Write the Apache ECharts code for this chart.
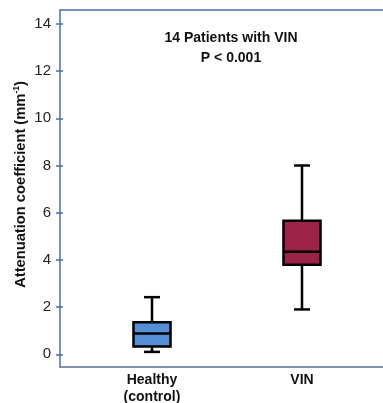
<!DOCTYPE html>
<html>
<head>
<meta charset="utf-8">
<script src="https://cdn.jsdelivr.net/npm/echarts@6/dist/echarts.min.js"></script>
<style>html,body{margin:0;padding:0;background:#fff}#c{width:383px;height:403px}</style>
</head>
<body>
<div id="c"></div>
<script>
const categories = ['Healthy\n(control)', 'VIN'];
const lowWhisker = [0.1, 1.9];
const q1 = [0.33, 3.79];
const median = [0.88, 4.34];
const q3 = [1.36, 5.66];
const highWhisker = [2.42, 8.0];
const yTicks = [0, 2, 4, 6, 8, 10, 12, 14];
const boxColors = ['#558ED5', '#9B2347'];
const titleLines = ['14 Patients with VIN', 'P < 0.001'];
const yName = 'Attenuation coefficient (mm';

const Y_MIN = -0.54, Y_MAX = 14.59;
const axisBlue = '#4a6fa5';
const bottomAxisColor = '#5a6f8f';
const FONT = 'Liberation Sans';

const chart = echarts.init(document.getElementById('c'));
chart.setOption({
  animation: false,
  backgroundColor: '#fff',
  title: {
    text: titleLines.join('\n'),
    left: 226, top: 23, textAlign: 'center',
    textStyle: {fontFamily: FONT, fontWeight: 'bold', fontSize: 14, color: '#111', lineHeight: 20}
  },
  graphic: [{
    type: 'text', x: 21, y: 184.5, rotation: Math.PI / 2,
    style: {
      text: '{n|' + yName + '}{s|-1}{n|)}',
      align: 'center', verticalAlign: 'middle',
      rich: {
        n: {fontFamily: FONT, fontWeight: 'bold', fontSize: 14.7, fill: '#111', lineHeight: 18},
        s: {fontFamily: FONT, fontWeight: 'bold', fontSize: 8.5, fill: '#111', lineHeight: 18, verticalAlign: 'top', padding: [0, 0, 6, 0]}
      }
    }
  }],
  grid: [
    {left: 60, top: 10, right: 0, bottom: 36, outerBoundsMode: 'none'},
    {left: 77, top: 10, right: 6, bottom: 36, outerBoundsMode: 'none'},
    {left: 60, top: 10, right: 0, bottom: 36, outerBoundsMode: 'none'}
  ],
  xAxis: [
    {gridIndex: 0, type: 'value', position: 'bottom', min: 0, max: 1,
     axisLine: {show: true, onZero: false, lineStyle: {color: bottomAxisColor, width: 1.5}},
     axisTick: {show: false}, axisLabel: {show: false}, splitLine: {show: false}},
    {gridIndex: 1, type: 'category', data: categories,
     axisLine: {show: false}, axisTick: {show: false},
     axisLabel: {margin: 5, fontFamily: FONT, fontWeight: 'bold', fontSize: 14, color: '#111', lineHeight: 17}},
    {gridIndex: 0, type: 'value', position: 'top', min: 0, max: 1,
     axisLine: {show: true, onZero: false, lineStyle: {color: axisBlue, width: 1.5}},
     axisTick: {show: false}, axisLabel: {show: false}, splitLine: {show: false}},
    {gridIndex: 2, type: 'value', min: 0, max: 1, show: false}
  ],
  yAxis: [
    {gridIndex: 0, type: 'value', position: 'left', min: Y_MIN, max: Y_MAX,
     splitLine: {show: false},
     axisLine: {show: true, onZero: false, lineStyle: {color: axisBlue, width: 1.5}},
     axisTick: {show: true, customValues: yTicks, length: 4, lineStyle: {color: axisBlue, width: 1.5}},
     axisLabel: {customValues: yTicks, margin: 9, fontFamily: FONT, fontSize: 15, color: '#222'}
    },
    {gridIndex: 2, type: 'value', position: 'left', min: Y_MIN, max: Y_MAX,
     splitLine: {show: false}, axisLine: {show: false, onZero: false},
     axisTick: {show: true, inside: true, customValues: yTicks, length: 3, lineStyle: {color: axisBlue, width: 1.5}},
     axisLabel: {show: false}
    },
    {gridIndex: 1, type: 'value', min: Y_MIN, max: Y_MAX, show: false}
  ],
  series: [{
    type: 'custom',
    xAxisIndex: 1, yAxisIndex: 2,
    data: categories.map((c, i) => [i, lowWhisker[i], q1[i], median[i], q3[i], highWhisker[i]]),
    encode: {x: 0, y: [1, 2, 3, 4, 5]},
    renderItem: function (params, api) {
      const i = api.value(0);
      const band = api.size([1, 0])[0];
      const bw = band * 0.247, cw = band * 0.107;
      const pLo = api.coord([i, api.value(1)]);
      const pQ1 = api.coord([i, api.value(2)]);
      const pMed = api.coord([i, api.value(3)]);
      const pQ3 = api.coord([i, api.value(4)]);
      const pHi = api.coord([i, api.value(5)]);
      const x = pMed[0];
      const ls = {stroke: '#000', lineWidth: 2.5};
      return {type: 'group', children: [
        {type: 'line', shape: {x1: x, y1: pLo[1], x2: x, y2: pQ1[1]}, style: ls},
        {type: 'line', shape: {x1: x, y1: pQ3[1], x2: x, y2: pHi[1]}, style: ls},
        {type: 'line', shape: {x1: x - cw / 2, y1: pLo[1], x2: x + cw / 2, y2: pLo[1]}, style: ls},
        {type: 'line', shape: {x1: x - cw / 2, y1: pHi[1], x2: x + cw / 2, y2: pHi[1]}, style: ls},
        {type: 'rect', shape: {x: x - bw / 2, y: pQ3[1], width: bw, height: pQ1[1] - pQ3[1]},
         style: {fill: boxColors[i], stroke: '#000', lineWidth: 2.5}},
        {type: 'line', shape: {x1: x - bw / 2, y1: pMed[1], x2: x + bw / 2, y2: pMed[1]}, style: ls}
      ]};
    }
  }]
});
</script>
</body>
</html>
